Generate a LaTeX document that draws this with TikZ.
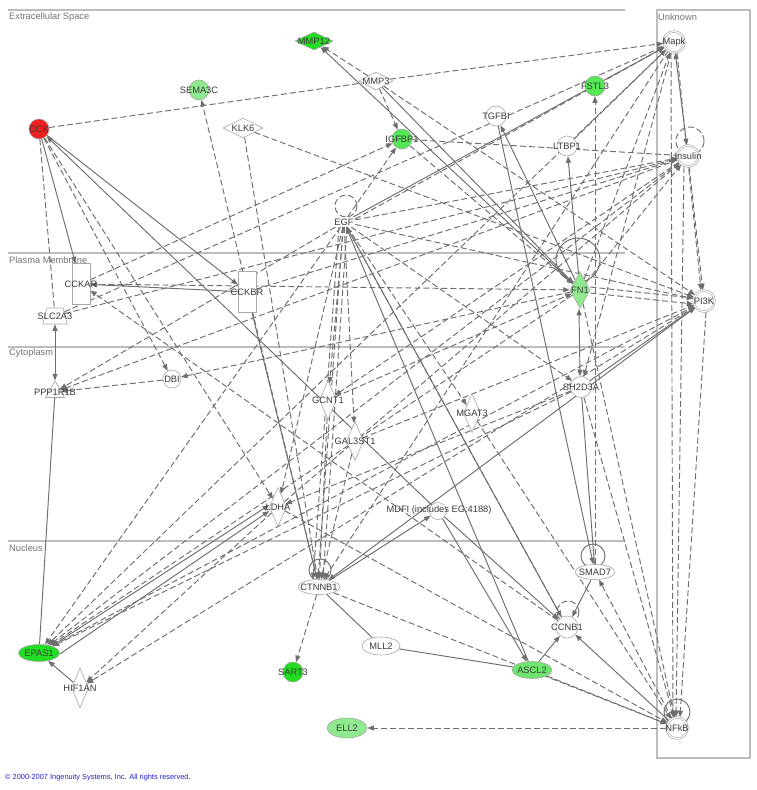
\documentclass[tikz,border=0pt]{standalone}
\usepackage{fontspec}
\setmainfont{Liberation Sans}
\usetikzlibrary{shapes.geometric,arrows.meta,calc}
\pgfdeclarelayer{bgl}
\pgfdeclarelayer{edges}
\pgfsetlayers{bgl,edges,main}
\definecolor{dkgreen}{HTML}{22DD22}
\definecolor{mdgreen}{HTML}{55E855}
\definecolor{ltgreen}{HTML}{8FEA8F}
\definecolor{cckred}{HTML}{EE2020}
\definecolor{edgec}{HTML}{6E6E6E}
\definecolor{outl}{HTML}{A8A8A8}
\definecolor{compc}{HTML}{BDBDBD}
\definecolor{labc}{HTML}{3A3A3A}
\definecolor{copyc}{HTML}{2222CC}
\tikzset{
 lbl/.style={font=\fontsize{9.3}{10}\selectfont, text=labc, inner sep=0pt},
 mol/.style={draw=outl, line width=0.6pt, inner sep=0pt, fill=white},
 lab/.style={label={[lbl]center:#1}},
 circ/.style={mol, circle, minimum size=20pt},
 dcirc/.style={mol, circle, minimum size=21pt, double=white, double distance=1.1pt},
 hdia/.style={mol, diamond, minimum width=38pt, minimum height=18pt},
 vdia/.style={mol, diamond, minimum width=17pt, minimum height=39pt},
 ell/.style={mol, ellipse, minimum width=40pt, minimum height=17pt},
 rec/.style={mol, rectangle, minimum width=18pt, minimum height=41pt},
 comptxt/.style={font=\fontsize{9.3}{10}\selectfont, text=black!55, inner sep=0pt, anchor=west},
 compline/.style={draw=compc, line width=1.2pt},
 dl/.style={draw=edgec, line width=0.95pt, dash pattern=on 6pt off 3pt},
 sl/.style={draw=edgec, line width=0.95pt},
 ar/.style={->},
 ba/.style={<->},
}
\begin{document}
\begin{tikzpicture}[x=1pt,y=-1pt,>={Triangle[length=6.5pt,width=5pt]}]
\useasboundingbox (0,0) rectangle (757,790);
\begin{pgfonlayer}{bgl}
\fill[white] (0,0) rectangle (757,790);
\end{pgfonlayer}
% compartment labels
\node[comptxt] (tExtra) at (9,17) {Extracellular Space};
\node[comptxt] (tPM) at (9,260) {Plasma Membrane};
\node[comptxt] (tCyto) at (9,353) {Cytoplasm};
\node[comptxt] (tNuc) at (9,548) {Nucleus};
\node[comptxt] (tUnk) at (658,17) {Unknown};
% molecules
\node[hdia, fill=dkgreen, lab=MMP12] (mmp12) at (314,41) {};
\node[circ, fill=ltgreen, lab=SEMA3C] (sema) at (199,90) {};
\node[circ, fill=cckred, lab=CCK] (cck) at (39,129) {};
\node[hdia, minimum width=40pt, minimum height=20pt, lab=KLK6] (klk6) at (243,128) {};
\node[hdia, minimum width=34pt, lab=MMP3] (mmp3) at (376,81) {};
\node[circ, fill=mdgreen, lab=IGFBP1] (igfbp1) at (402,139) {};
\node[circ, lab=TGFBI] (tgfbi) at (496,116) {};
\node[circ, fill=mdgreen, lab=FSTL3] (fstl3) at (595,86) {};
\node[circ, lab=LTBP1] (ltbp1) at (567,146) {};
\node[dcirc, lab=Mapk] (mapk) at (674,42) {};
\node[dcirc, lab=Insulin] (insulin) at (688,156) {};
\node[lbl, inner sep=1.5pt, fill=white] (egf) at (344,222) {EGF};
\node[vdia, minimum width=20pt, minimum height=37pt, fill=ltgreen, lab=FN1] (fn1) at (580,290) {};
\node[dcirc, lab=PI3K] (pi3k) at (704,301) {};
\node[rec, lab=CCKAR] (cckar) at (81,284) {};
\node[rec, lab=CCKBR] (cckbr) at (247,292) {};
\node[mol, inner sep=2pt, trapezium, trapezium left angle=75, trapezium right angle=75, minimum width=17pt, minimum height=16pt, lab=SLC2A3] (slc2a3) at (55,316) {};
\node[mol, inner sep=2pt, regular polygon, regular polygon sides=3, minimum size=22pt, lab=PPP1R1B] (ppp1r1b) at (55,392) {};
\node[circ, minimum size=18pt, lab=DBI] (dbi) at (172,379) {};
\node[circ, minimum size=21pt, lab=SH2D3A] (sh2d3a) at (581,387) {};
\node[vdia, lab=GCNT1] (gcnt1) at (328,400) {};
\node[vdia, lab=GAL3ST1] (gal3st1) at (355,441) {};
\node[vdia, lab=MGAT3] (mgat3) at (472,413) {};
\node[vdia, lab=LDHA] (ldha) at (278,507) {};
\node[circ, minimum size=17pt] (mdfi) at (438,511) {};
\node[lbl] (mdfilab) at (439,510) {MDFI (includes EG:4188)};
\node[ell, minimum width=42pt, minimum height=15pt, lab=CTNNB1] (ctnnb1) at (319,587) {};
\node[ell, minimum width=40pt, minimum height=15pt, lab=SMAD7] (smad7) at (595,572) {};
\node[circ, minimum size=22pt, lab=CCNB1] (ccnb1) at (567,627) {};
\node[ell, minimum width=38pt, minimum height=18pt, lab=MLL2] (mll2) at (381,646) {};
\node[ell, fill=ltgreen!70!dkgreen, minimum width=40pt, minimum height=17pt, lab=ASCL2] (ascl2) at (532,670) {};
\node[ell, fill=dkgreen, minimum width=41pt, minimum height=17pt, lab=EPAS1] (epas1) at (39,653) {};
\node[vdia, minimum width=17pt, minimum height=40pt, lab=HIF1AN] (hif1an) at (80,688) {};
\node[circ, fill=dkgreen, lab=SART3] (sart3) at (293,672) {};
\node[ell, fill=ltgreen, minimum width=40pt, minimum height=20pt, lab=ELL2] (ell2) at (347,728) {};
\node[dcirc, lab=NFkB] (nfkb) at (677,728) {};
\node[font=\fontsize{7.4}{8}\selectfont, text=copyc, anchor=west, inner sep=0pt] (copy) at (5,778) {© 2000-2007 Ingenuity Systems, Inc. All rights reserved.};

\begin{pgfonlayer}{edges}
% compartments
\draw[compline] (8,10) -- (625,10);
\draw[compline] (8,253) -- (625,253);
\draw[compline] (8,347) -- (625,347);
\draw[compline] (8,541) -- (625,541);
\draw[draw=compc, line width=1.1pt] (657,10) rectangle (750,758);
% self loops
\draw[dl] ([shift={(2,-16)}]egf.center) circle (11pt);
\draw[dl] ([shift={(2,-15)}]insulin.center) circle (14pt);
\draw[sl] ([shift={(-2,-30)}]fn1.center) circle (22pt);
\draw[sl] ([shift={(1,-17)}]ctnnb1.center) circle (11pt);
\draw[sl] ([shift={(-2,-16)}]smad7.center) circle (12pt);
\draw[dl] ([shift={(1,-15)}]ccnb1.center) circle (11pt);
\draw[sl] ([shift={(0,-16)}]nfkb.center) circle (13pt);
% dashed edges
\draw[dl] (cck) -- (mmp3);
\draw[dl,ar] (mmp3) -- (mmp12);
\draw[dl,ar] (mmp3) -- (mapk);
\draw[dl,ar] (mmp3) -- (igfbp1);
\draw[dl,ar] (mmp3) -- (pi3k);
\draw[dl,ar] (ctnnb1) -- (sema);
\draw[dl,ar] (klk6) -- (ctnnb1);
\draw[dl,ar] (klk6) -- (pi3k);
\draw[dl] (cck) -- (slc2a3);
\draw[dl,ar] (cck) -- (dbi);
\draw[dl,ar] (cck) -- (ldha);
\draw[dl] (igfbp1) -- (insulin);
\draw[dl,ar] ([yshift=3pt]egf.east) -- (mapk);
\draw[dl,ar] (ltbp1) -- (mapk);
\draw[dl,ar] (fn1) -- (mapk);
\draw[dl,ar] (slc2a3) -- (mapk);
\draw[dl,ar] ([xshift=3pt]mapk.south) -- ([xshift=-3pt]pi3k.north);
\draw[dl,ar] ([xshift=-3pt]mapk.south) -- ([xshift=-4pt]nfkb.north);
\draw[dl,ar] (insulin) -- (pi3k);
\draw[dl,ar] ([xshift=-4pt]insulin.south) -- ([xshift=-1pt]nfkb.north);
\draw[dl,ar] ([xshift=2pt]pi3k.south) -- ([xshift=3pt]nfkb.north);
\draw[dl,ar] (egf) -- (insulin);
\draw[dl,ar] (fn1) -- (insulin);
\draw[dl,ar] (slc2a3) -- (insulin);
\draw[dl,ar] (cckbr) -- (insulin);
\draw[dl,ar] (egf) -- (pi3k);
\draw[dl,ar] ([yshift=3pt]fn1.east) -- ([yshift=3pt]pi3k.west);
\draw[dl,ar] ([yshift=-3pt]fn1.east) -- ([yshift=-3pt]pi3k.west);
\draw[dl,ar] (smad7) -- (fstl3);
\draw[dl,ar] (fn1) -- (dbi);
\draw[dl,ar] (insulin) -- (ppp1r1b);
\draw[dl,ar] (egf) -- (ppp1r1b);
\draw[dl,ar] (dbi) -- (ppp1r1b);
\draw[dl,ar] ([xshift=-5pt]egf.south) -- ([xshift=-6pt]ctnnb1.north);
\draw[dl,ar] ([xshift=-1pt]egf.south) -- ([xshift=-1pt]ctnnb1.north);
\draw[dl,ar] ([xshift=3pt]egf.south) -- ([xshift=4pt]ctnnb1.north);
\draw[dl,ar] (egf) -- (gcnt1);
\draw[dl,ar] (egf) -- (gal3st1);
\draw[dl,ar] (egf) -- (ldha);
\draw[dl,ar] (egf) -- (epas1);
\draw[dl,ar] (egf) -- (mgat3);
\draw[dl,ar] (egf) -- (igfbp1);
\draw[dl,ar] (egf) -- (sh2d3a);
\draw[dl,ar] (egf) -- (ccnb1);
\draw[dl,ar] (gcnt1) -- (ctnnb1);
\draw[dl,ar] (gal3st1) -- (ctnnb1);
\draw[dl,ar] (ctnnb1) -- (sart3);
\draw[dl,ar] (sh2d3a) -- (nfkb);
\draw[dl,ar] (ascl2) -- (nfkb);
\draw[dl,ar] (ctnnb1) -- (nfkb);
\draw[dl,ar] (nfkb) -- (ell2);
\draw[dl,ar] (ldha) -- (nfkb);
\draw[dl,ar] (mgat3) -- (nfkb);
\draw[dl,ar] (fn1) -- (nfkb);
\draw[dl,ar] (nfkb) -- (smad7);
\draw[dl,ar] (pi3k) -- (hif1an);
\draw[dl,ar] (ldha) -- (hif1an);
\draw[dl,ar] (fn1) -- (epas1);
\draw[dl,ar] (pi3k) -- (epas1);
\draw[dl,ar] (insulin) -- (epas1);
\draw[dl,ar] (mapk) -- (epas1);
\draw[dl,ar] (sh2d3a) -- (epas1);
\draw[dl,ar] (mapk) -- (ctnnb1);
\draw[dl,ar] (mapk) -- (sh2d3a);
\draw[dl,ar] (cckar) -- (igfbp1);
\draw[dl,ar] (cckar) -- (fn1);
\draw[dl,ar] (igfbp1) -- (fn1);
\draw[dl,ar] (ccnb1) -- (cckar);
\draw[dl,ar] (insulin) -- (gcnt1);
\draw[dl,ar] (sh2d3a) -- (ldha);
\draw[dl,ar] (ldha) -- (insulin);
\draw[dl,ar] (gal3st1) -- (pi3k);
\draw[dl,ar] (gcnt1) -- (fn1);
% solid edges
\draw[sl,ba] (fn1) -- (mmp12);
\draw[sl,ar] (mmp3) -- (fn1);
\draw[sl,ar] (fn1) -- (tgfbi);
\draw[sl,ar] (tgfbi) -- (smad7);
\draw[sl,ar] (fn1) -- (ltbp1);
\draw[sl,ba] ([xshift=-1pt]fn1.south) -- ([xshift=-1pt]sh2d3a.north);
\draw[sl] (sh2d3a) -- (smad7);
\draw[sl,ar] (sh2d3a) -- (pi3k);
\draw[sl,ar] (egf) -- (mapk);
\draw[sl,ar] (ccnb1) -- (egf);
\draw[sl,ar] (ascl2) -- (egf);
\draw[sl,ar] (cck) -- (cckar);
\draw[sl,ar] (cck) -- (cckbr);
\draw[sl,ar] (cckbr) -- (cckar);
\draw[sl,ar] (mdfi) -- (cck);
\draw[sl,ar] (cckbr) -- (ctnnb1);
\draw[sl,ba] (slc2a3) -- (ppp1r1b);
\draw[sl] (ppp1r1b) -- (epas1);
\draw[sl,ar] (hif1an) -- (epas1);
\draw[sl,ar] ([yshift=2pt]epas1.north east) -- ([yshift=2pt]ldha.west);
\draw[sl,ar] ([yshift=-1pt]epas1.east) -- ([yshift=-4pt]ldha.west);
\draw[sl,ba] (ctnnb1) -- (pi3k);
\draw[sl,ar] (ctnnb1) -- (mdfi);
\draw[sl] (ctnnb1) -- (mll2);
\draw[sl] (mll2) -- (ascl2);
\draw[sl,ar] (mdfi) -- (ascl2);
\draw[sl,ar] (mdfi) -- (ccnb1);
\draw[sl,ar] (ascl2) -- (ccnb1);
\draw[sl,ar] (smad7) -- (ccnb1);
\draw[sl,ar] (nfkb) -- (ccnb1);
\draw[sl,ba] (mapk) -- (insulin);
\end{pgfonlayer}
\end{tikzpicture}
\end{document}
